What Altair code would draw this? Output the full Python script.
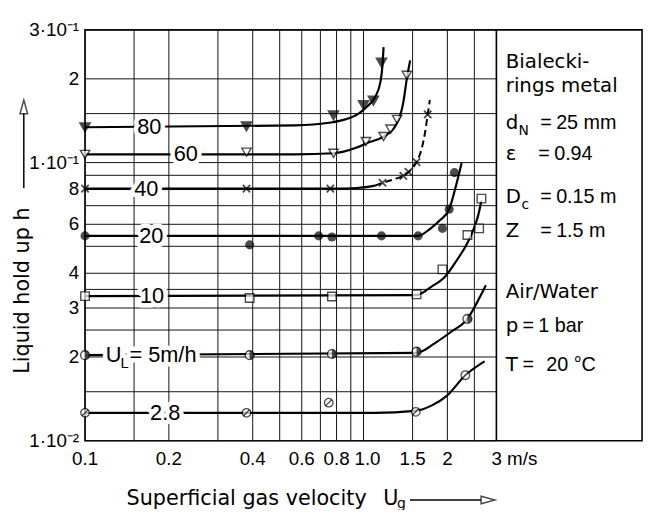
import altair as alt
import pandas as pd

FONT_NUM = "Liberation Sans"
FONT_TXT = "DejaVu Sans"

# ---------------- axis / grid data ----------------
x_grid = [0.1, 0.15, 0.2, 0.3, 0.4, 0.5, 0.6, 0.7, 0.8, 0.9, 1.0, 1.5, 2, 2.5, 3]
x_label_values = [0.1, 0.2, 0.4, 0.6, 0.8, 1.0, 1.5, 2, 3]
x_label_texts = ["0.1", "0.2", "0.4", "0.6", "0.8", "1.0", "1.5", "2", "3 m/s"]
y_grid = [0.01, 0.015, 0.02, 0.025, 0.03, 0.035, 0.04, 0.05, 0.06, 0.07, 0.08,
          0.09, 0.1, 0.15, 0.2, 0.3]
y_label_values = [0.01, 0.02, 0.03, 0.04, 0.06, 0.08, 0.1, 0.2, 0.3]
y_label_texts = ["1·10⁻²", "2", "3", "4", "6", "8", "1·10⁻¹", "2", "3·10⁻¹"]
x_diagram_range = [0.1, 3]

# ---------------- measured points (U_L series) ----------------
p80_x = [0.1, 0.38, 0.78, 1.0, 1.085, 1.16]
p80_y = [0.134, 0.135, 0.148, 0.161, 0.167, 0.229]
p60_x = [0.1, 0.38, 0.78, 1.02, 1.18, 1.25, 1.32, 1.43]
p60_y = [0.107, 0.109, 0.108, 0.119, 0.124, 0.132, 0.143, 0.206]
p40_x = [0.1, 0.38, 0.76, 1.17, 1.39, 1.45, 1.55, 1.70]
p40_y = [0.0806, 0.0806, 0.0806, 0.0846, 0.0896, 0.0926, 0.1004, 0.149]
p20_x = [0.1, 0.39, 0.69, 0.77, 1.16, 1.57, 1.92, 2.03, 2.12]
p20_y = [0.0545, 0.0506, 0.0545, 0.054, 0.0545, 0.0545, 0.058, 0.068, 0.092]
p10_x = [0.1, 0.39, 0.77, 1.55, 1.92, 2.36, 2.6, 2.65]
p10_y = [0.0331, 0.0326, 0.033, 0.0336, 0.0413, 0.0549, 0.058, 0.0742]
p5_x = [0.1, 0.39, 0.77, 1.55, 2.36]
p5_y = [0.0203, 0.0203, 0.0205, 0.0209, 0.0274]
p28_x = [0.1, 0.38, 0.75, 1.54, 2.32]
p28_y = [0.0126, 0.0126, 0.0137, 0.0127, 0.0172]

# ---------------- drawn curves ----------------
c80_x = [0.1, 0.57, 0.75, 0.86, 0.96, 1.03, 1.10, 1.15, 1.17, 1.18]
c80_y = [0.134, 0.136, 0.139, 0.143, 0.150, 0.159, 0.172, 0.195, 0.225, 0.26]
c60_x = [0.1, 0.57, 0.78, 0.94, 1.04, 1.18, 1.30, 1.39, 1.43, 1.47]
c60_y = [0.107, 0.107, 0.108, 0.113, 0.118, 0.124, 0.135, 0.165, 0.20, 0.233]
c40_x = [0.1, 0.78, 0.95, 1.10]
c40_y = [0.0806, 0.0806, 0.081, 0.0826]
c40d_x = [1.10, 1.17, 1.30, 1.39, 1.49, 1.55, 1.62, 1.66, 1.70, 1.73]
c40d_y = [0.0826, 0.0846, 0.0874, 0.0896, 0.0949, 0.1004, 0.113, 0.127, 0.149, 0.168]
c20_x = [0.1, 1.57, 1.73, 1.88, 2.03, 2.13, 2.25]
c20_y = [0.0545, 0.0545, 0.0577, 0.062, 0.068, 0.080, 0.0996]
c10_x = [0.1, 1.55, 1.76, 1.95, 2.17, 2.36, 2.50, 2.58, 2.65]
c10_y = [0.0331, 0.0334, 0.0359, 0.0386, 0.0448, 0.0514, 0.0586, 0.0646, 0.073]
c5_x = [0.1, 1.55, 1.80, 2.07, 2.36, 2.56, 2.75]
c5_y = [0.0203, 0.0207, 0.0224, 0.0247, 0.0274, 0.0315, 0.0362]
c28_x = [0.1, 1.10, 1.53, 1.76, 1.99, 2.32, 2.72]
c28_y = [0.0126, 0.0126, 0.0128, 0.0134, 0.0145, 0.0172, 0.0193]

# ---------------- in-line curve labels ----------------
lab_text = ["80", "60", "40", "20", "10", "2.8"]
lab_x = [0.170, 0.230, 0.166, 0.173, 0.174, 0.194]
lab_y = [0.134, 0.107, 0.0806, 0.0545, 0.0331, 0.0126]
ul_x = [0.1187]
ul_y = [0.0203]

# ---------------- build tables ----------------
def frame(name, xs_, ys_):
    return pd.DataFrame({"series": name, "x": xs_, "y": ys_, "o": list(range(len(xs_)))})

curves_solid = pd.concat([
    frame("80", c80_x, c80_y), frame("60", c60_x, c60_y), frame("40", c40_x, c40_y),
    frame("20", c20_x, c20_y), frame("10", c10_x, c10_y), frame("5", c5_x, c5_y),
    frame("2.8", c28_x, c28_y)])
curves_dash = frame("40d", c40d_x, c40d_y)

W, H = 564, 416
xs = alt.Scale(type="log", domain=[0.1, 10], nice=False)
ys = alt.Scale(type="log", domain=[0.01, 0.3], nice=False)
X = alt.X("x:Q", scale=xs, axis=None)
Y = alt.Y("y:Q", scale=ys, axis=None)

# grid
vgrid = alt.Chart(pd.DataFrame({"x": x_grid})).mark_rule(
    color="#111111", strokeWidth=1).encode(x=X)
hgrid_df = pd.DataFrame({"y": y_grid, "x0": x_diagram_range[0], "x1": x_diagram_range[1]})
hgrid = alt.Chart(hgrid_df).mark_rule(color="#111111", strokeWidth=1).encode(
    x=alt.X("x0:Q", scale=xs, axis=None), x2="x1:Q", y=Y)
sep = alt.Chart(pd.DataFrame({"x": [x_diagram_range[1]]})).mark_rule(
    color="black", strokeWidth=1.6).encode(x=X)

# tick labels
xl_df = pd.DataFrame({"x": x_label_values, "t": x_label_texts})
xlab_c = alt.Chart(xl_df).transform_filter("datum.x < 3 && datum.x != 1").mark_text(
    font=FONT_NUM, fontSize=19, color="black", align="center", baseline="middle").encode(
    x=X, y=alt.value(H + 19), text="t:N")
xlab_1 = alt.Chart(xl_df).transform_filter("datum.x == 1").mark_text(
    font=FONT_NUM, fontSize=19, color="black", align="center", baseline="middle", dx=4).encode(
    x=X, y=alt.value(H + 19), text="t:N")
xlab_r = alt.Chart(xl_df).transform_filter("datum.x >= 3").mark_text(
    font=FONT_NUM, fontSize=19, color="black", align="left", baseline="middle", dx=-5).encode(
    x=X, y=alt.value(H + 19), text="t:N")
yl_df = pd.DataFrame({"y": y_label_values, "t": y_label_texts})
ylab = alt.Chart(yl_df).mark_text(
    font=FONT_NUM, fontSize=19, color="black", align="right", baseline="middle").encode(
    x=alt.value(-6), y=Y, text="t:N")

lines = alt.Chart(curves_solid).mark_line(
    interpolate="monotone", color="black", strokeWidth=2.2).encode(
    x=X, y=Y, detail="series:N", order="o:Q")
dashed = alt.Chart(curves_dash).mark_line(
    interpolate="monotone", color="black", strokeWidth=2, strokeDash=[7, 4]).encode(
    x=X, y=Y, detail="series:N", order="o:Q")

labels_df = pd.DataFrame({"t": lab_text, "x": lab_x, "y": lab_y})
halo = alt.Chart(labels_df).mark_text(
    font=FONT_NUM, fontSize=22, fill="white", stroke="white", strokeWidth=9,
    strokeJoin="round", align="center", baseline="middle").encode(x=X, y=Y, text="t:N")
labels = alt.Chart(labels_df).mark_text(
    font=FONT_NUM, fontSize=22, color="black", align="center",
    baseline="middle").encode(x=X, y=Y, text="t:N")

ul_df = pd.DataFrame({"x": ul_x, "y": ul_y})
ul_parts = [("U", 0, 0, 22), ("L", 15, 8, 15), ("= 5m/h", 24, 0, 22)]
ul_layers = []
for t_, dx, dy, fs in ul_parts:
    ul_layers.append(alt.Chart(ul_df).mark_text(
        text=t_, font=FONT_NUM, fontSize=fs, fill="white", stroke="white",
        strokeWidth=9, strokeJoin="round", align="left", baseline="middle",
        dx=dx, dy=dy).encode(x=X, y=Y))
for t_, dx, dy, fs in ul_parts:
    ul_layers.append(alt.Chart(ul_df).mark_text(
        text=t_, font=FONT_NUM, fontSize=fs, color="black", align="left",
        baseline="middle", dx=dx, dy=dy).encode(x=X, y=Y))

# markers
def pts(xs_, ys_):
    return pd.DataFrame({"x": xs_, "y": ys_})

m80 = alt.Chart(pts(p80_x, p80_y)).mark_point(
    shape="triangle-down", filled=True, fill="black", stroke="black", size=90).encode(x=X, y=Y)
m60 = alt.Chart(pts(p60_x, p60_y)).mark_point(
    shape="triangle-down", filled=True, fill="white", stroke="black", strokeWidth=1.4,
    size=90).encode(x=X, y=Y)
m40 = alt.Chart(pts(p40_x, p40_y)).mark_point(
    shape="M-1,-1L1,1M-1,1L1,-1", filled=False, stroke="black", strokeWidth=1.8,
    size=55).encode(x=X, y=Y)
m20 = alt.Chart(pts(p20_x, p20_y)).mark_point(
    shape="circle", filled=True, fill="black", size=85).encode(x=X, y=Y)
m10 = alt.Chart(pts(p10_x, p10_y)).mark_point(
    shape="square", filled=True, fill="white", stroke="black", strokeWidth=1.4,
    size=75).encode(x=X, y=Y)
m5a = alt.Chart(pts(p5_x, p5_y)).mark_point(
    shape="circle", filled=True, fill="white", stroke="black", strokeWidth=1.4,
    size=80).encode(x=X, y=Y)
m5b = alt.Chart(pts(p5_x, p5_y)).mark_point(
    shape="M0,-1A1,1 0 0,1 0,1Z", filled=True, fill="black", size=80).encode(x=X, y=Y)
m28a = alt.Chart(pts(p28_x, p28_y)).mark_point(
    shape="circle", filled=True, fill="white", stroke="black", strokeWidth=1.3,
    size=75).encode(x=X, y=Y)
m28b = alt.Chart(pts(p28_x, p28_y)).mark_point(
    shape="M-0.75,0.75L0.75,-0.75", filled=False, stroke="black", strokeWidth=1.3,
    size=75).encode(x=X, y=Y)

# ---------------- annotations (titles, arrows, info box) ----------------
one = pd.DataFrame({"a": [0]})

def txt(text, x, y, size=20, font=FONT_TXT, align="left", baseline="alphabetic", angle=0):
    return alt.Chart(one).mark_text(
        text=text, font=font, fontSize=size, color="black", align=align,
        baseline=baseline, angle=angle).encode(x=alt.value(x), y=alt.value(y))

ytitle = txt("Liquid hold up h", -63, 264, size=21, align="center",
             baseline="middle", angle=270)
yarrow_line = alt.Chart(one).mark_rule(color="black", strokeWidth=1.5).encode(
    x=alt.value(-62), y=alt.value(85), y2=alt.value(160))
yarrow_head = alt.Chart(one).mark_point(
    shape="M0,-1L0.55,1L-0.55,1Z", filled=True, fill="white", stroke="black",
    strokeWidth=1.5, size=196).encode(x=alt.value(-62), y=alt.value(78))

xtitle = txt("Superficial gas velocity", 42, 481, size=21)
xtitle_u = txt("U", 302, 481, size=21)
xtitle_g = txt("g", 316, 484, size=14)
xarrow_line = alt.Chart(one).mark_rule(color="black", strokeWidth=1.5).encode(
    x=alt.value(329), x2=alt.value(401), y=alt.value(476))
xarrow_head = alt.Chart(one).mark_point(
    shape="M1,0L-1,-0.55L-1,0.55Z", filled=True, fill="white", stroke="black",
    strokeWidth=1.5, size=196).encode(x=alt.value(408), y=alt.value(476))

def num(text, x, y, size=20):
    return txt(text, x, y, size=size, font=FONT_NUM)

box = [
    txt("Bialecki-", 426, 39),
    txt("rings metal", 426, 63),
    txt("d", 426, 100), txt("N", 439, 106, size=14), num("=", 461, 100), num("25 mm", 477, 100),
    txt("ε", 426, 132), num("=", 459, 132), num("0.94", 475, 132),
    txt("D", 426, 175), txt("c", 442, 181, size=14), num("=", 461, 175), num("0.15 m", 477, 175),
    txt("Z", 426, 210), num("=", 461, 210), num("1.5 m", 477, 210),
    txt("Air/Water", 426, 271),
    txt("p", 426, 306), num("=", 443, 306), num("1 bar", 459, 306),
    txt("T", 426, 345), num("=", 443, 345), num("20 °C", 467, 345),
]

chart = alt.layer(
    vgrid, hgrid, sep, xlab_c, xlab_1, xlab_r, ylab, lines, dashed, halo, labels, *ul_layers,
    m80, m60, m40, m20, m10, m5a, m5b, m28a, m28b,
    ytitle, yarrow_line, yarrow_head, xtitle, xtitle_u, xtitle_g,
    xarrow_line, xarrow_head, *box
).properties(
    width=W, height=H,
    autosize=alt.AutoSizeParams(type="none"),
    padding={"left": 78, "top": 19, "right": 4, "bottom": 67},
    background="white",
).configure_view(stroke="black", strokeWidth=1.6)

chart.save("out.html", embed_options={"renderer": "svg", "actions": False})
